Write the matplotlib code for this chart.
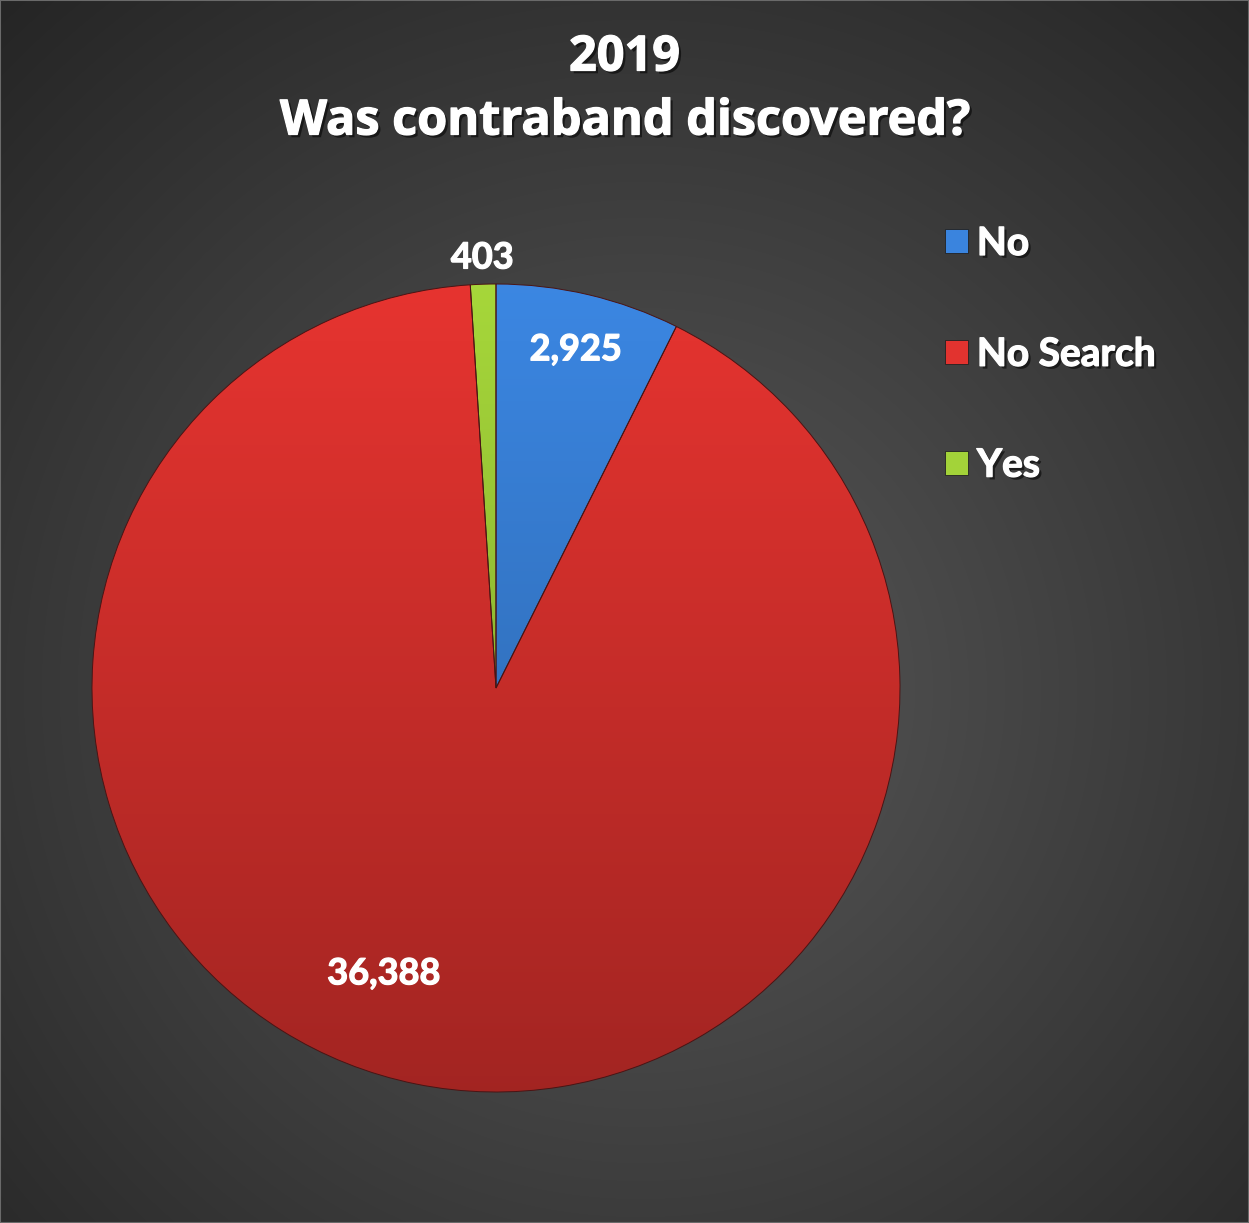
import numpy as np
import matplotlib.pyplot as plt
import matplotlib.patheffects as pe
from matplotlib.colors import to_rgb
from matplotlib.patches import Patch, Rectangle

categories = ["No", "No Search", "Yes"]
counts = [2925, 36388, 403]
colors = ["#3a84de", "#e2332f", "#a3d339"]
title_lines = ["2019", "Was contraband discovered?"]

# label placement per slice: (radius, angle shift in degrees)
label_pos = [(0.86, 0.0), (0.76, -10.0), (1.065, 0.0)]

plt.rcParams['font.family'] = ['Lato', 'DejaVu Sans']

W, H = 1249, 1223
fig = plt.figure(figsize=(W / 100, H / 100), dpi=100)

# dark radial background
bg = fig.add_axes([0, 0, 1, 1])
yy, xx = np.mgrid[0:H, 0:W]
cx, cy = 640, 690
d = np.hypot(xx - cx, yy - cy) / np.hypot(640, 690)
v = 0.35 - (0.35 - 0.145) * np.clip(d, 0, 1)
bg.imshow(np.dstack([v, v, v]), extent=[0, 1, 0, 1], aspect='auto', origin='upper')
bg.set_xlim(0, 1)
bg.set_ylim(0, 1)
bg.axis('off')
bg.add_patch(Rectangle((0, 0), 1, 1, fill=False, edgecolor='#6a6a6a', linewidth=1.5,
                       transform=bg.transAxes))

bold = pe.withStroke(linewidth=0.9, foreground='white')
shadow = [pe.SimplePatchShadow(offset=(2, -2), shadow_rgbFace='black', alpha=0.55), bold]

# pie
R = 404
ax = fig.add_axes([(496 - R) / W, (H - 688 - R) / H, 2 * R / W, 2 * R / H])
wedges, _ = ax.pie(counts, colors=colors, startangle=90, counterclock=False, radius=1,
                   wedgeprops=dict(edgecolor='#4a1414', linewidth=0.7))

# vertical shading inside each slice
shade = np.linspace(1.02, 0.72, 256)
for w, c in zip(wedges, colors):
    base = np.array(to_rgb(c))
    img = np.clip(shade[:, None, None] * base[None, None, :], 0, 1)
    im = ax.imshow(img, extent=[-1, 1, -1, 1], aspect='auto', origin='upper', zorder=2)
    im.set_clip_path(w)
    w.set_facecolor('none')
    w.set_zorder(3)

for w, n, (r, shift) in zip(wedges, counts, label_pos):
    mid = np.deg2rad((w.theta1 + w.theta2) / 2 + shift)
    ax.text(r * np.cos(mid), r * np.sin(mid), f"{n:,}", ha='center', va='center',
            color='white', fontsize=26, fontweight='bold', zorder=5, path_effects=[bold])

ax.set_xlim(-1, 1)
ax.set_ylim(-1, 1)
ax.axis('off')

title_font = ['Open Sans', 'DejaVu Sans']
fig.text(0.5, 1 - 58 / H, title_lines[0], ha='center', va='center', color='white',
         fontsize=35, fontweight='bold', family=title_font, path_effects=shadow)
fig.text(0.5, 1 - 122 / H, title_lines[1], ha='center', va='center', color='white',
         fontsize=35, fontweight='bold', family=title_font, path_effects=shadow)

handles = [Patch(facecolor=c, edgecolor='#222222', linewidth=0.6) for c in colors]
leg = fig.legend(handles, categories, loc='upper left', bbox_to_anchor=(945 / W, 1 - 226 / H),
                 frameon=False, labelspacing=1.95, handlelength=0.58, handleheight=0.58,
                 handletextpad=0.24, borderpad=0, borderaxespad=0,
                 prop=dict(size=28, weight='bold'))
for t in leg.get_texts():
    t.set_color('white')
    t.set_path_effects(shadow)

fig.savefig("out.png", dpi=100)
